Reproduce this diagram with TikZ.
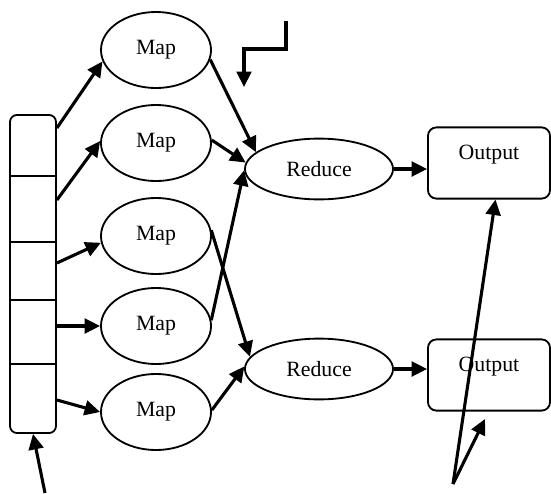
\documentclass[tikz,border=0pt]{standalone}
\usepackage{fontspec}
\setmainfont{Liberation Serif}
\usetikzlibrary{arrows.meta,shapes.geometric}

\begin{document}
\begin{tikzpicture}[x=0.025cm, y=-0.025cm,
    every node/.style={font=\fontsize{15.5pt}{18pt}\selectfont},
    mapnode/.style={draw, line width=1.3pt, ellipse, minimum width=2.75cm, minimum height=1.9cm, inner sep=0pt},
    reducenode/.style={draw, line width=1.3pt, ellipse, minimum width=3.7cm, minimum height=1.52cm, inner sep=0pt},
    outnode/.style={draw, line width=1.3pt, rounded corners=6pt, minimum width=3.05cm, minimum height=1.78cm},
    flow/.style={line width=2.2pt, -{Triangle[length=11pt,width=10.5pt]}}]
    \useasboundingbox (0,0) rectangle (551,493);

    % input split into blocks
    \node[draw, line width=1.3pt, rounded corners=5pt, minimum width=1.15cm, minimum height=7.95cm] (stack) at (33,274) {};
    \foreach \y in {176,242,300,364}
        \draw[line width=1.3pt] (stack.west |- 0,\y) -- (stack.east |- 0,\y);

    \node[mapnode] (map1) at (156,50) {Map};
    \node[mapnode] (map2) at (156,143) {Map};
    \node[mapnode] (map3) at (156,236) {Map};
    \node[mapnode] (map4) at (156,326) {Map};
    \node[mapnode] (map5) at (156,412) {Map};

    \node[reducenode] (red1) at (319,169) {Reduce};
    \node[reducenode] (red2) at (319,369) {Reduce};

    \node[outnode, label={[yshift=0.2cm]center:Output}] (out1) at (489,163) {};
    \node[outnode, label={[yshift=0.2cm]center:Output}] (out2) at (489,375) {};

    \draw[flow] (stack.east |- 0,128) -- (map1.192);
    \draw[flow] (stack.east |- 0,200) -- (map2.178);
    \draw[flow] (stack.east |- 0,263) -- (map3.187);
    \draw[flow] (stack.east |- map4.west) -- (map4.west);
    \draw[flow] (stack.east |- 0,400) -- (map5.west);

    \draw[flow] (map1.-10) -- (red1.165);
    \draw[flow] (map2.3) -- (red1.175);
    \draw[flow] (map4.6) -- (red1.181);
    \draw[flow] (map3.6) -- (red2.170);
    \draw[flow] (map5.2) -- (red2.178);

    \draw[flow] (red1.east) -- (red1.east -| out1.west);
    \draw[flow] (red2.east) -- (red2.east -| out2.west);

    % loose arrows
    \coordinate (bendtop) at (286,21);
    \coordinate (bendmid) at (286,49);
    \coordinate (bendleft) at (244,49);
    \coordinate (bendend) at (244,87);
    \draw[flow] (bendtop) -- (bendmid) -- (bendleft) -- (bendend);

    \coordinate (infeed) at (45,493);
    \draw[flow] (infeed) -- (stack.south);

    \coordinate (vtx) at (453,484);
    \coordinate (vend) at (485,419);
    \draw[flow] (vtx) -- (out1.280);
    \draw[flow] (vtx) -- (vend);
\end{tikzpicture}
\end{document}
